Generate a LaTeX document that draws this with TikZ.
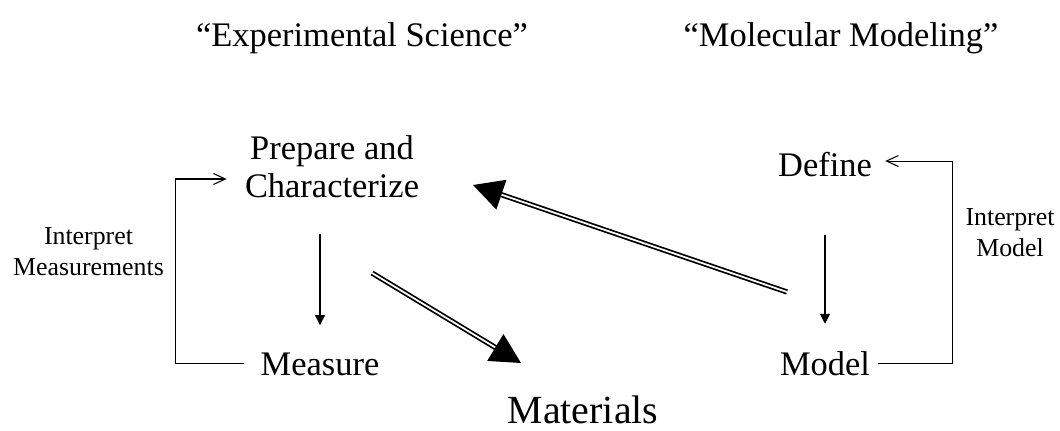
\documentclass[tikz,border=0pt]{standalone}
\usepackage{fontspec}
\setmainfont{Liberation Serif}
\usetikzlibrary{arrows.meta,calc}

\begin{document}
\begin{tikzpicture}[
    lbl/.style={inner sep=0pt,font=\fontsize{19.6}{21.5}\selectfont,align=center},
    side/.style={inner sep=0pt,font=\fontsize{14.7}{17.6}\selectfont,align=center},
    big/.style={inner sep=0pt,font=\fontsize{22.7}{26}\selectfont},
    stepline/.style={line width=0.6pt,-{Triangle[length=0.2cm,width=0.2cm]}},
    loopline/.style={line width=0.6pt,-{Straight Barb[length=0.24cm,width=0.22cm]}},
    fat/.style={double,line width=1pt,double distance=1pt,-{Triangle[length=0.6cm,width=0.62cm,fill=black]}}]
  \useasboundingbox (0,0) rectangle (21.2,8.6);
  % ---- headings ----
  \node[lbl,anchor=base] (expt) at (7.24,7.66) {``Experimental Science''};
  \node[lbl,anchor=base] (molm) at (16.82,7.66) {``Molecular Modeling''};
  % ---- left column: experiment ----
  \node[lbl] (prep) at (6.64,5.26) {Prepare and\\Characterize};
  \node[lbl,anchor=base] (meas) at (6.40,1.10) {Measure};
  \node[side] (imeas) at (1.77,3.56) {Interpret\\Measurements};
  % ---- right column: modeling ----
  \node[lbl,anchor=base] (defn) at (16.50,5.06) {Define};
  \node[lbl,anchor=base] (modl) at (16.50,1.10) {Model};
  \node[side] (imodl) at (20.20,3.95) {Interpret\\Model};
  % ---- bottom ----
  \node[big,anchor=base] (matl) at (11.66,0.14) {Materials};
  % ends of the double arrows
  \coordinate (pOut) at (7.44,3.14);
  \coordinate (mIn) at (10.42,1.34);
  \coordinate (dOut) at (15.74,2.76);
  \coordinate (pIn) at (9.46,4.90);
  \draw[stepline,shorten <=0.72cm,shorten >=0.54cm] (prep.south -| meas.north) -- (meas.north);
  \draw[stepline,shorten <=1.14cm,shorten >=0.54cm] (defn.south) -- (modl.north);
  \draw[loopline,shorten <=0.32cm,shorten >=0.36cm] (meas.west) -- ++(-1.70,0) |- ([yshift=-0.24cm]prep.west);
  \draw[loopline,shorten <=0.16cm,shorten >=0.26cm] (modl.east) -- ++(1.64,0) |- ([yshift=0.08cm]defn.east);
  \draw[fat] (pOut) -- (mIn);
  \draw[fat] (dOut) -- (pIn);
\end{tikzpicture}
\end{document}
